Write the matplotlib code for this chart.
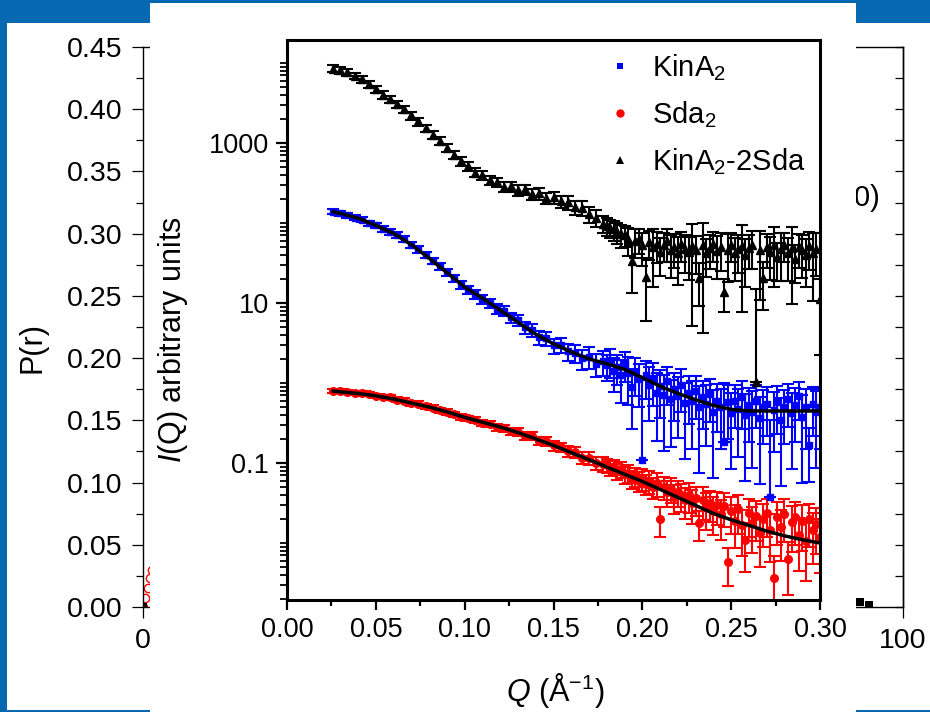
import numpy as np
import matplotlib
matplotlib.use('Agg')
import matplotlib.pyplot as plt
from matplotlib.patches import Rectangle
from matplotlib.lines import Line2D
from matplotlib.ticker import (MultipleLocator, FixedLocator, FixedFormatter,
                               LogLocator, NullFormatter, FormatStrFormatter)

plt.rcParams['font.family'] = ['Liberation Sans', 'DejaVu Sans']
plt.rcParams['mathtext.fontset'] = 'custom'
plt.rcParams['mathtext.rm'] = 'Liberation Sans'
plt.rcParams['mathtext.it'] = 'Liberation Sans:italic'

# ---- SAXS data (inset) ----
q = [0.026, 0.030, 0.034, 0.038, 0.042, 0.046, 0.050, 0.054, 0.058, 0.062,
     0.066, 0.070, 0.074, 0.078, 0.082, 0.086, 0.090, 0.094, 0.098, 0.102,
     0.106, 0.110, 0.114, 0.118, 0.122, 0.126, 0.130, 0.134, 0.138, 0.142,
     0.146, 0.150, 0.154, 0.158, 0.162, 0.166, 0.170, 0.174, 0.178, 0.180,
     0.182, 0.184, 0.186, 0.188, 0.190, 0.192, 0.194, 0.196, 0.198, 0.200,
     0.202, 0.204, 0.206, 0.208, 0.210, 0.212, 0.214, 0.216, 0.218, 0.220,
     0.222, 0.224, 0.226, 0.228, 0.230, 0.232, 0.234, 0.236, 0.238, 0.240,
     0.242, 0.244, 0.246, 0.248, 0.250, 0.252, 0.254, 0.256, 0.258, 0.260,
     0.262, 0.264, 0.266, 0.268, 0.270, 0.272, 0.274, 0.276, 0.278, 0.280,
     0.282, 0.284, 0.286, 0.288, 0.290, 0.292, 0.294, 0.296, 0.298, 0.300]

i_complex = [8510, 8130, 7670, 6920, 6240, 5430, 4680, 4030, 3510, 3050,
             2630, 2210, 1860, 1530, 1260, 1060, 871, 716, 589, 513,
             427, 398, 347, 324, 282, 288, 257, 263, 229, 234,
             204, 209, 186, 182, 158, 155, 129, 117, 97.7, 91.2,
             87.1, 83.2, 77.6, 72.4, 70.8, 63.1, 33.1, 60.3, 63.1, 52.5,
             21.4, 57.5, 50.1, 55.0, 43.7, 53.7, 58.9, 45.7, 50.1, 41.7,
             55.0, 47.9, 43.7, 51.3, 45.7, 20.4, 52.5, 42.7, 49.0, 55.0,
             44.7, 50.1, 13.8, 45.7, 53.7, 41.7, 47.9, 51.3, 39.8, 49.0,
             52.5, 1.02, 45.7, 20.4, 50.1, 43.7, 52.5, 38.0, 46.8, 53.7,
             41.7, 49.0, 35.5, 50.1, 45.7, 39.8, 51.3, 42.7, 47.9, 11.2]
rel_complex = [0.10, 0.10, 0.10, 0.10, 0.10, 0.10, 0.10, 0.11, 0.11, 0.11,
               0.11, 0.11, 0.11, 0.11, 0.12, 0.12, 0.12, 0.12, 0.12, 0.12,
               0.13, 0.13, 0.13, 0.14, 0.14, 0.14, 0.15, 0.15, 0.15, 0.16,
               0.16, 0.17, 0.18, 0.19, 0.20, 0.21, 0.22, 0.23, 0.24, 0.25,
               0.26, 0.28, 0.30, 0.32, 0.30, 0.38, 0.60, 0.40, 0.35, 0.45,
               0.72, 0.40, 0.68, 0.42, 0.50, 0.40, 0.45, 0.55, 0.45, 0.60,
               0.40, 0.50, 0.55, 0.90, 0.50, 0.55, 0.92, 0.50, 0.45, 0.40,
               0.55, 0.50, 0.44, 0.60, 0.40, 0.55, 0.50, 0.85, 0.60, 0.45,
               0.50, 13.5, 0.76, 0.60, 0.45, 0.55, 0.70, 0.50, 0.60, 0.40,
               0.55, 0.80, 0.50, 0.45, 0.55, 0.60, 0.50, 0.75, 0.55, 0.80]

i_kina = [138, 132, 126, 117, 110, 100, 93.3, 85.1, 77.6, 70.8,
          63.1, 53.7, 46.8, 39.8, 33.9, 28.8, 24.5, 20.4, 17.0, 14.5,
          12.9, 11.2, 10.0, 8.51, 7.94, 6.61, 6.17, 5.01, 4.57, 3.72,
          3.63, 2.95, 3.02, 2.51, 2.40, 2.04, 2.14, 1.74, 1.86, 1.66,
          1.91, 1.41, 1.58, 1.26, 1.74, 1.32, 0.891, 1.38, 1.12, 0.110,
          1.26, 0.955, 1.15, 0.759, 0.912, 0.708, 1.05, 0.631, 0.832, 0.692,
          0.955, 0.562, 0.759, 0.603, 0.794, 0.501, 0.661, 0.550, 0.724, 0.437,
          0.603, 0.501, 0.182, 0.575, 0.417, 0.603, 0.479, 0.661, 0.398, 0.525,
          0.437, 0.603, 0.363, 0.501, 0.550, 0.038, 0.457, 0.575, 0.347, 0.501,
          0.631, 0.417, 0.525, 0.692, 0.380, 0.501, 0.166, 0.550, 0.437, 0.501]
rel_kina = [0.07, 0.07, 0.07, 0.07, 0.07, 0.07, 0.08, 0.08, 0.08, 0.08,
            0.08, 0.08, 0.09, 0.09, 0.09, 0.10, 0.10, 0.10, 0.11, 0.11,
            0.12, 0.12, 0.13, 0.14, 0.14, 0.15, 0.16, 0.17, 0.18, 0.19,
            0.20, 0.21, 0.22, 0.24, 0.26, 0.28, 0.30, 0.32, 0.34, 0.36,
            0.40, 0.45, 0.40, 0.55, 0.40, 0.60, 0.70, 0.50, 0.55, 9.0,
            0.50, 0.65, 0.55, 0.75, 0.60, 0.80, 0.50, 0.75, 0.60, 0.70,
            0.55, 0.80, 0.60, 0.75, 0.55, 0.85, 0.60, 0.70, 0.55, 0.85,
            0.60, 0.70, 4.5, 0.65, 0.80, 0.55, 0.75, 0.60, 0.85, 0.65,
            0.80, 0.55, 0.85, 0.65, 0.60, 8.0, 0.70, 0.60, 0.85, 0.65,
            0.55, 0.80, 0.65, 0.50, 0.85, 0.70, 0.65, 0.60, 0.80, 0.70]

i_sda = [0.794, 0.794, 0.776, 0.759, 0.741, 0.724, 0.692, 0.676, 0.661, 0.617,
         0.603, 0.562, 0.550, 0.513, 0.490, 0.457, 0.437, 0.407, 0.380, 0.363,
         0.347, 0.316, 0.309, 0.282, 0.275, 0.251, 0.245, 0.219, 0.219, 0.191,
         0.186, 0.166, 0.158, 0.141, 0.138, 0.117, 0.115, 0.100, 0.0977, 0.0933,
         0.0871, 0.0891, 0.0794, 0.0832, 0.0724, 0.0759, 0.0631, 0.0692, 0.0603, 0.0646,
         0.0550, 0.0603, 0.0501, 0.0562, 0.0200, 0.0501, 0.0437, 0.0479, 0.0380, 0.0437,
         0.0398, 0.0347, 0.0398, 0.0316, 0.0363, 0.0178, 0.0347, 0.0282, 0.0316, 0.0251,
         0.0302, 0.0229, 0.0288, 0.00575, 0.0251, 0.0191, 0.0263, 0.0166, 0.0110, 0.0240,
         0.0178, 0.0219, 0.0132, 0.0200, 0.0240, 0.0145, 0.00363, 0.0209, 0.0158, 0.0229,
         0.00631, 0.0182, 0.0209, 0.0126, 0.0191, 0.0105, 0.0200, 0.0145, 0.0174, 0.0120]
rel_sda = [0.06, 0.06, 0.06, 0.06, 0.06, 0.06, 0.06, 0.06, 0.07, 0.07,
           0.07, 0.07, 0.07, 0.07, 0.07, 0.07, 0.08, 0.08, 0.08, 0.08,
           0.09, 0.09, 0.09, 0.10, 0.10, 0.10, 0.11, 0.11, 0.12, 0.12,
           0.13, 0.14, 0.14, 0.15, 0.16, 0.17, 0.18, 0.19, 0.20, 0.20,
           0.20, 0.21, 0.22, 0.23, 0.24, 0.25, 0.26, 0.27, 0.28, 0.30,
           0.28, 0.32, 0.30, 0.34, 0.40, 0.32, 0.36, 0.34, 0.40, 0.36,
           0.38, 0.42, 0.40, 0.45, 0.40, 0.40, 0.44, 0.48, 0.42, 0.50,
           0.45, 0.52, 0.45, 0.50, 0.48, 0.55, 0.50, 0.58, 0.60, 0.50,
           0.58, 0.52, 0.62, 0.55, 0.50, 0.60, 0.90, 0.55, 0.62, 0.55,
           0.65, 0.58, 0.55, 0.65, 0.58, 0.68, 0.55, 0.62, 0.58, 0.65]

# model fits
q_fit = [0.026, 0.03, 0.04, 0.05, 0.06, 0.07, 0.08, 0.09, 0.10, 0.11,
         0.12, 0.13, 0.14, 0.15, 0.16, 0.17, 0.18, 0.19, 0.20, 0.21,
         0.22, 0.23, 0.24, 0.25, 0.26, 0.27, 0.28, 0.29, 0.30]
fit_kina = [138, 132, 115, 93.3, 74.1, 53.7, 36.3, 24.0, 15.8, 11.5,
            8.13, 5.75, 4.07, 3.09, 2.45, 2.00, 1.74, 1.48, 1.17, 0.912,
            0.741, 0.617, 0.525, 0.468, 0.447, 0.447, 0.447, 0.447, 0.447]
fit_sda = [0.794, 0.776, 0.741, 0.692, 0.631, 0.562, 0.501, 0.437, 0.372, 0.324,
           0.282, 0.240, 0.200, 0.166, 0.135, 0.110, 0.0891, 0.0724, 0.0589, 0.0468,
           0.0372, 0.0295, 0.0234, 0.0195, 0.0166, 0.0141, 0.0123, 0.0110, 0.0100]

# ---- P(r) data (background chart, mostly covered) ----
r_sda = [0.0, 0.3, 0.6, 0.9, 1.2, 2.0, 4.0, 8.0, 12.0, 16.0, 20.0, 25.0, 30.0, 35.0, 40.0, 45.0]
p_sda = [0.0, 0.007, 0.015, 0.023, 0.030, 0.05, 0.10, 0.19, 0.27, 0.31, 0.29, 0.22, 0.13, 0.06, 0.02, 0.0]
r_complex = [0, 10, 20, 30, 40, 50, 60, 70, 80, 90, 94.3, 95.5]
p_complex = [0, 0.10, 0.25, 0.33, 0.30, 0.22, 0.14, 0.08, 0.04, 0.012, 0.004, 0.002]

SLIDE_BLUE = '#0568b1'
W, H = 930, 712

fig = plt.figure(figsize=(W / 100, H / 100), dpi=100, facecolor=SLIDE_BLUE)

# white slide area
fig.add_artist(Rectangle((7 / W, 2 / H), 923 / W, 687 / H, transform=fig.transFigure,
                         facecolor='white', edgecolor='none', zorder=0.5))

# background P(r) chart
axp = fig.add_axes([143 / W, 105 / H, 760 / W, 560 / H], zorder=1)
axp.set_facecolor('none')
axp.plot(r_sda, p_sda, 'o', mfc='none', mec='red', ms=6, mew=1.0)
axp.plot(r_complex, p_complex, 's', color='black', ms=6, mew=0)
axp.set_xlim(0, 100)
axp.set_ylim(0, 0.45)
axp.yaxis.set_major_locator(MultipleLocator(0.05))
axp.yaxis.set_minor_locator(MultipleLocator(0.025))
axp.yaxis.set_major_formatter(FormatStrFormatter('%.2f'))
axp.xaxis.set_major_locator(FixedLocator([0, 100]))
axp.xaxis.set_minor_locator(FixedLocator([20, 40, 60, 80]))
axp.xaxis.set_major_formatter(FormatStrFormatter('%d'))
axp.tick_params(axis='y', which='major', direction='out', length=8, width=0.9,
                labelsize=20.5, pad=7, right=False)
axp.tick_params(axis='y', which='minor', direction='out', length=5, width=0.9, right=False)
axp.tick_params(axis='x', which='both', direction='out', length=8, width=0.9,
                labelsize=20.5, pad=7, top=False)
for s in axp.spines.values():
    s.set_linewidth(1.0)
sec = axp.secondary_yaxis('right')
sec.yaxis.set_major_locator(MultipleLocator(0.025))
sec.yaxis.set_major_formatter(NullFormatter())
sec.tick_params(direction='in', length=6, width=0.9)
sec.spines['right'].set_linewidth(1.0)
fig.text(32 / W, 1 - 347 / H, 'P(r)', rotation=90, fontsize=22,
         ha='center', va='center')
fig.text(879 / W, 1 - 198 / H, 'KinA$_2$-2Sda (x10)', fontsize=21,
         ha='right', va='center', zorder=1.5)

# white inset panel
fig.add_artist(Rectangle((150 / W, 0), 706 / W, 709 / H, transform=fig.transFigure,
                         facecolor='white', edgecolor='none', zorder=2))

# inset SAXS chart
axq = fig.add_axes([287 / W, 112 / H, 533 / W, 560 / H], zorder=3)
axq.set_yscale('log')


def draw_series(ax, y, rel, color, marker, ms):
    # Origin style: the lower bar is dropped when it would cross zero
    y = np.asarray(y)
    err = y * np.asarray(rel)
    lower = np.where(err < y, err, 0.0)
    ax.errorbar(q, y, yerr=[lower, err], fmt=marker, color=color, ms=ms,
                ecolor=color, elinewidth=1.5, capsize=4.5, capthick=1.5)


draw_series(axq, i_sda, rel_sda, 'red', 'o', 5.5)
draw_series(axq, i_kina, rel_kina, 'blue', 's', 4.8)
draw_series(axq, i_complex, rel_complex, 'black', '^', 6.2)
axq.plot(q_fit, fit_kina, color='black', lw=2.5, zorder=5)
axq.plot(q_fit, fit_sda, color='black', lw=2.5, zorder=5)

axq.set_xlim(0, 0.30)
axq.set_ylim(0.00194, 19400)
axq.xaxis.set_major_locator(MultipleLocator(0.05))
axq.xaxis.set_minor_locator(MultipleLocator(0.025))
axq.xaxis.set_major_formatter(FormatStrFormatter('%.2f'))
axq.yaxis.set_major_locator(FixedLocator([0.1, 10, 1000]))
axq.yaxis.set_major_formatter(FixedFormatter(['0.1', '10', '1000']))
axq.yaxis.set_minor_locator(LogLocator(base=10, subs=np.arange(1, 10), numticks=30))
axq.yaxis.set_minor_formatter(NullFormatter())
axq.tick_params(axis='x', which='major', direction='out', length=7, width=1.6,
                labelsize=19.5, pad=5)
axq.tick_params(axis='x', which='minor', direction='out', length=4.5, width=1.6)
axq.tick_params(axis='y', which='major', direction='out', length=8, width=1.6,
                labelsize=19.5, pad=5)
axq.tick_params(axis='y', which='minor', direction='out', length=5, width=1.3)
for s in axq.spines.values():
    s.set_linewidth(2.2)

handles = [Line2D([], [], ls='none', marker='s', color='blue', ms=5, mew=0),
           Line2D([], [], ls='none', marker='o', color='red', ms=6, mew=0),
           Line2D([], [], ls='none', marker='^', color='black', ms=6, mew=0)]
labels = ['KinA$_2$', 'Sda$_2$', 'KinA$_2$-2Sda']
axq.legend(handles, labels, loc='upper left', bbox_to_anchor=(0.597, 0.978),
           frameon=False, fontsize=21, handlelength=1.0, handletextpad=0.6,
           labelspacing=0.55, borderpad=0, borderaxespad=0)

fig.text(173 / W, 1 - 340 / H, '$I$(Q) arbitrary units', rotation=90, fontsize=22,
         ha='center', va='center', zorder=4)
fig.text(555 / W, 1 - 690 / H, '$Q$ (Å$^{-1}$)', fontsize=22,
         ha='center', va='center', zorder=4)

fig.savefig('out.png', dpi=100, facecolor=SLIDE_BLUE)
